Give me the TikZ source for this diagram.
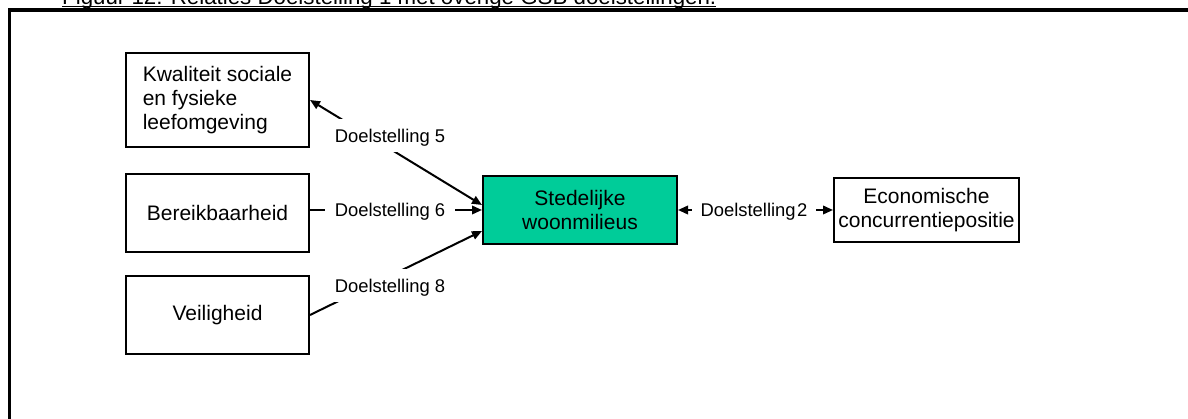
\documentclass[tikz,border=0pt]{standalone}
\usepackage{fontspec}
\setmainfont{Liberation Sans}
\usetikzlibrary{arrows.meta}
\definecolor{woongroen}{RGB}{0,204,153}
\begin{document}
\begin{tikzpicture}[x=1pt,y=-1pt,
  box/.style={draw=black, line width=2, fill=white, inner sep=0,
    font=\fontsize{21}{24}\selectfont},
  lbl/.style={fill=white, inner xsep=10, inner ysep=0, text height=13.2,
    text depth=0, minimum height=33, font=\fontsize{18.4}{21}\selectfont},
  link/.style={line width=2, >={Triangle[length=10,width=8.5]}}]
\useasboundingbox (0,0) rectangle (1188,419);

% caption above the frame, partly cut off by the page edge
\node[anchor=base west, inner sep=0, font=\fontsize{22.3}{26}\selectfont] (title) at (62,4.3)
  {Figuur 12: Relaties Doelstelling 1 met overige GSB doelstellingen.};
\draw[line width=1.3] ([yshift=-2.2]title.base west) -- ([yshift=-2.2]title.base east);

% frame
\draw[line width=3.5, line join=miter] (1195,10) -- (9.5,10) -- (9.5,430);

% boxes
\node[box, minimum width=183, minimum height=94, align=left] (kw) at (217.5,100)
  {Kwaliteit sociale\\en fysieke\\leefomgeving};
\node[box, minimum width=183, minimum height=78] (ber) at (217.5,213) {Bereikbaarheid};
\node[box, minimum width=183, minimum height=78] (vei) at (217.5,315) {Veiligheid};
\node[box, fill=woongroen, minimum width=194, minimum height=68, align=center] (grn) at (580,210)
  {Stedelijke\\woonmilieus};
\node[box, minimum width=185, minimum height=64, align=center] (eco) at (926.5,210)
  {Economische\\concurrentiepositie};

% connectors
\draw[link, <->] (kw.east) -- ([yshift=5]grn.west);
\draw[link, ->] (ber.east |- grn.west) -- (grn.west);
\draw[link, ->] (vei.east) -- ([yshift=-21]grn.west);
\draw[link, <->] (grn.east) -- (eco.west);

% connector labels
\node[lbl] (l5) at (390,135.5) {Doelstelling 5};
\node[lbl] (l6) at (390,210) {Doelstelling 6};
\node[lbl] (l8) at (390,286) {Doelstelling 8};
\node[lbl, inner xsep=9] (l2) at (754,210) {Doelstelling\kern1.5pt 2};
\end{tikzpicture}
\end{document}
